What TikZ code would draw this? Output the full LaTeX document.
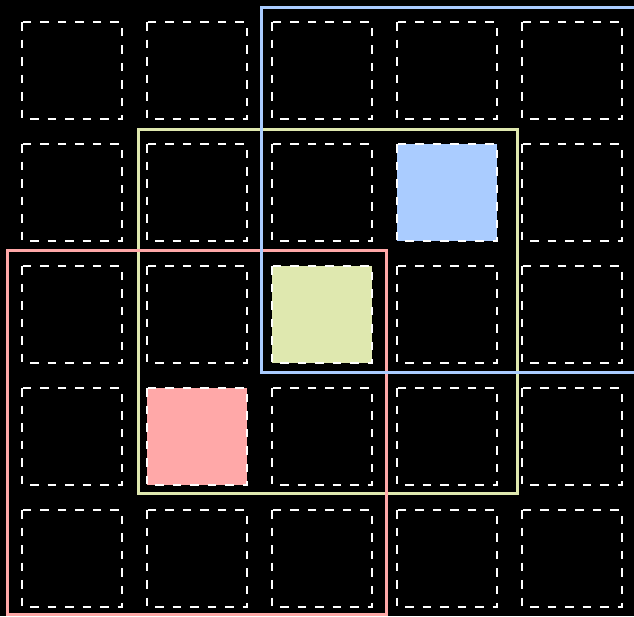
\documentclass[tikz,border=0pt]{standalone}
\begin{document}
\begin{tikzpicture}[x=1pt,y=-1pt,
  cell/.style={draw=white,line width=1.6pt,dash pattern=on 8.5pt off 9pt},
  region/.style={line width=3pt}]
\definecolor{cblue}{RGB}{170,204,255}
\definecolor{cgreen}{RGB}{223,232,175}
\definecolor{cred}{RGB}{255,168,168}
\useasboundingbox (0,0) rectangle (634,616);
\clip (0,0) rectangle (634,616);
\fill[black] (0,0) rectangle (634,616);
% filled cells
\fill[cblue] (397,144) rectangle (497,241);
\fill[cgreen] (272,266) rectangle (372,363);
\fill[cred] (147,388) rectangle (247,485);
% grid of dashed cells
\foreach \i in {0,...,4}{
  \foreach \j in {0,...,4}{
    \draw[cell] ({22+125*\i},{22+122*\j}) rectangle ++(100,97);
  }
}
% regions
\draw[region,draw=cgreen] (138,129) rectangle (517,493);
\draw[region,draw=cred] (7,250) rectangle (386,614);
\draw[region,draw=cblue] (261,7) rectangle (640,372);
\end{tikzpicture}
\end{document}
